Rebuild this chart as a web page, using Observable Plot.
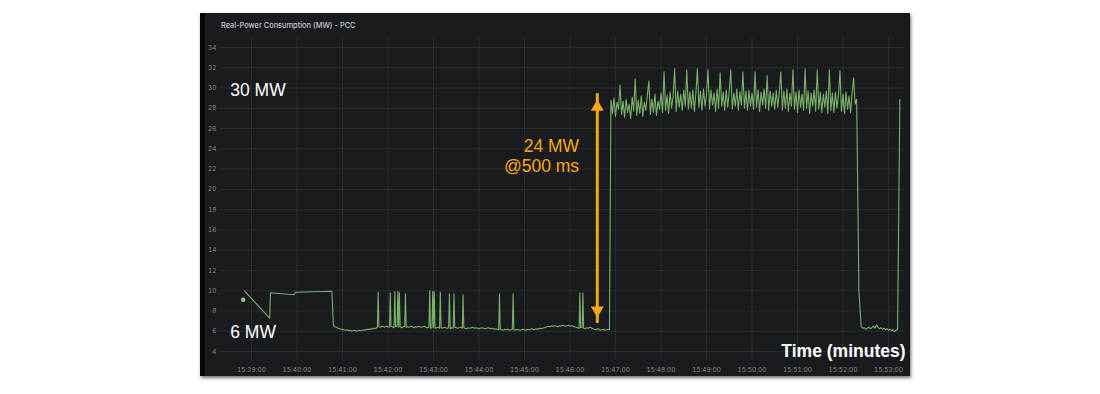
<!DOCTYPE html>
<html><head><meta charset="utf-8">
<script src="https://cdn.jsdelivr.net/npm/d3@7"></script>
<script src="https://cdn.jsdelivr.net/npm/@observablehq/plot@0.6"></script>
<style>
html,body{margin:0;padding:0;background:#fff;width:1100px;height:394px;overflow:hidden}
#panel{position:absolute;left:200px;top:13px;width:710px;height:363px;background:#1a1b1f;
  box-shadow: inset 5px 0 0 #060606, 1px 2px 3px rgba(0,0,0,0.55);}
#chart{position:absolute;left:0;top:0}
#title{position:absolute;left:21px;top:8px;font:500 7.4px Inter, sans-serif;color:#c9c9c9;white-space:nowrap}
</style></head><body>
<div id="panel"><div id="chart"></div><div id="title">Real-Power Consumption (MW) - PCC</div></div>
<script>
const DAY = "2024-01-01T";
const T = s => new Date(DAY + s + "Z");

const xTickLabels = ["15:39:00","15:40:00","15:41:00","15:42:00","15:43:00","15:44:00","15:45:00","15:46:00","15:47:00","15:48:00","15:49:00","15:50:00","15:51:00","15:52:00","15:53:00"];
const yTicks = [4,6,8,10,12,14,16,18,20,22,24,26,28,30,32,34];

// isolated first sample
const startDot = {time: "15:38:49", value: 9.1};
// sparse start segment
const startTimes = ["15:38:51","15:39:24","15:39:25","15:39:56","15:39:58","15:40:46"];
const startValues = [9.95, 7.3, 9.8, 9.6, 9.85, 9.95];

// low baseline, 2 s samples from 15:40:48
const lowStart = "15:40:48";
const lowStep = 2;
const lowValues = [
 6.55,6.45,6.4,6.3,6.25,6.2,6.2,6.15,6.1,6.15,
 6.05,6.1,6.0,6.05,6.1,6.0,6.05,6.1,6.05,6.1,
 6.15,6.1,6.2,6.15,6.25,6.2,6.3,6.25,6.3,6.4,
 6.45,6.4,6.5,6.45,6.4,6.5,6.45,6.4,6.5,6.45,
 6.35,6.45,6.5,6.4,6.45,6.35,6.45,6.5,6.4,6.45,
 6.4,6.5,6.45,6.35,6.45,6.4,6.5,6.45,6.4,6.45,
 6.5,6.4,6.35,6.4,6.3,6.35,6.4,6.3,6.35,6.4,
 6.3,6.35,6.3,6.4,6.35,6.3,6.35,6.25,6.35,6.3,
 6.4,6.35,6.3,6.35,6.4,6.3,6.35,6.3,6.25,6.35,
 6.3,6.35,6.4,6.3,6.35,6.3,6.25,6.3,6.35,6.3,
 6.25,6.3,6.35,6.3,6.25,6.3,6.2,6.25,6.2,6.15,
 6.2,6.15,6.1,6.2,6.15,6.2,6.1,6.15,6.2,6.15,
 6.1,6.2,6.15,6.1,6.15,6.2,6.15,6.1,6.2,6.15,
 6.2,6.25,6.15,6.2,6.25,6.2,6.3,6.25,6.3,6.35,
 6.4,6.45,6.5,6.45,6.55,6.5,6.55,6.5,6.45,6.55,
 6.5,6.6,6.55,6.5,6.55,6.6,6.5,6.55,6.5,6.45,
 6.4,6.35,6.3,6.35,6.4,6.3,6.25,6.35,6.3,6.4,
 6.35,6.25,6.2,6.15,6.25,6.2,6.1,6.15,6.2,6.1,
 6.15,6.2,6.15
];
const lowSpikeTimes = ["15:41:47","15:42:03","15:42:09","15:42:13","15:42:15","15:42:23","15:42:55","15:42:59","15:43:01","15:43:09","15:43:21","15:43:27","15:43:39","15:44:27","15:44:45","15:46:13","15:46:17"];
const lowSpikeValues = [9.85,9.8,9.9,9.95,9.8,9.7,10.0,9.95,9.9,9.85,9.7,9.7,9.6,9.7,9.7,9.8,9.8];

// high plateau, 2 s samples from 15:46:54
const highStart = "15:46:54";
const highStep = 2;
const highValues = [
 28.8,27.5,29.0,27.2,28.6,27.9,30.3,27.4,28.7,27.1,
 28.9,27.6,28.4,27.0,29.1,27.7,30.9,27.3,28.8,27.5,
 29.2,27.2,28.6,27.8,29.3,30.7,27.4,28.9,27.6,29.4,
 27.3,28.7,27.9,29.5,27.6,31.6,27.8,29.3,27.5,29.6,
 28.0,29.2,31.9,27.7,29.7,28.1,29.4,27.8,29.8,28.2,
 31.8,27.9,29.6,28.0,29.8,27.7,29.5,31.9,28.1,29.7,
 27.8,29.9,28.2,29.4,31.8,27.9,29.8,28.3,29.5,27.7,
 29.9,28.0,31.5,28.2,29.6,27.8,29.8,28.1,29.7,31.8,
 27.9,29.5,28.2,29.9,27.8,29.6,28.3,31.6,28.0,29.7,
 27.8,29.8,28.2,29.5,27.9,31.6,28.1,29.8,27.7,29.6,
 28.3,29.9,28.0,31.2,27.8,29.7,28.2,29.5,27.9,29.8,
 28.1,29.6,31.6,27.8,29.7,28.0,29.9,27.7,29.5,28.2,
 31.8,27.9,29.6,27.6,29.8,28.1,29.4,27.8,31.9,28.0,
 29.7,27.5,29.5,28.2,29.8,27.7,31.8,27.9,29.6,27.6,
 29.4,28.1,29.7,27.5,31.8,27.8,29.5,27.6,29.6,28.0,
 29.3,31.7,27.7,29.4,27.5,29.6,27.9,29.2,27.6,29.5,
 31.0,28.4,28.9
];

// drop back to base load
const dropTimes = ["15:52:21"];
const dropValues = [9.9];
const tailStart = "15:52:24";
const tailStep = 2;
const tailValues = [6.45,6.3,6.35,6.2,6.3,6.4,6.25,6.35,6.5,6.3,6.6,6.4,6.25,6.35,6.2,6.3,6.15,6.25,6.1,6.2,6.05,6.15,5.95,6.1,6.2];
const endTimes = ["15:53:15"];
const endValues = [28.9];

// annotations
const labelTimes = ["15:38:32","15:38:32"];
const labelValues = [29.8, 5.85];
const labelTexts = ["30 MW","6 MW"];
const stepNote = {time: "15:46:12", value: 23.3, text: "24 MW\n@500 ms"};
const stepArrow = {time: "15:46:36", from: 7.35, to: 28.85};
const axisTitle = {value: 4.05, text: "Time (minutes)"};

// ---- build tables
const series = [];
startTimes.forEach((t,i)=>series.push({time:T(t), value:startValues[i]}));
lowValues.forEach((v,i)=>series.push({time:new Date(+T(lowStart)+i*lowStep*1000), value:v}));
lowSpikeTimes.forEach((t,i)=>series.push({time:T(t), value:lowSpikeValues[i]}));
highValues.forEach((v,i)=>series.push({time:new Date(+T(highStart)+i*highStep*1000), value:v}));
dropTimes.forEach((t,i)=>series.push({time:T(t), value:dropValues[i]}));
tailValues.forEach((v,i)=>series.push({time:new Date(+T(tailStart)+i*tailStep*1000), value:v}));
endTimes.forEach((t,i)=>series.push({time:T(t), value:endValues[i]}));
series.sort((a,b)=>a.time-b.time);

const xTicks = xTickLabels.map(T);
const labels = labelTexts.map((s,i)=>({time:T(labelTimes[i]), value:labelValues[i], text:s}));
const arrowRow = [{time:T(stepArrow.time), from:stepArrow.from, to:stepArrow.to}];
const noteRow = [{time:T(stepNote.time), value:stepNote.value, text:stepNote.text}];

const ORANGE = "#f5a80f";
const GREEN = "#78b067";
const triDown = {draw(ctx, size){const y=Math.sqrt(size/(3*Math.sqrt(3)));ctx.moveTo(0,2*y);ctx.lineTo(-Math.sqrt(3)*y,-y);ctx.lineTo(Math.sqrt(3)*y,-y);ctx.closePath();}};

const chart = Plot.plot({
  width: 710, height: 363,
  marginLeft: 20, marginRight: 5, marginTop: 24, marginBottom: 17,
  style: {background: "transparent", color: "#8c8c8c", fontFamily: "Inter, sans-serif", fontSize: "6.5px"},
  x: {type: "utc", domain: [xTicks[0], xTicks[xTicks.length-1]], range: [51, 688], label: null},
  y: {domain: [4, 34], range: [338, 34], label: null},
  marks: [
    Plot.gridY(yTicks, {stroke: "#ffffff", strokeOpacity: 0.07}),
    Plot.gridX(xTicks, {stroke: "#ffffff", strokeOpacity: 0.07}),
    Plot.axisY(yTicks, {tickSize: 0, tickPadding: 4, label: null}),
    Plot.axisX(xTicks, {tickSize: 0, tickPadding: 8, tickFormat: d3.utcFormat("%H:%M:%S"), label: null}),
    Plot.line(series, {x: "time", y: "value", stroke: GREEN, strokeWidth: 1.1}),
    Plot.dot([{time: T(startDot.time), value: startDot.value}], {x: "time", y: "value", r: 2.2, fill: "#8fd07c"}),
    Plot.text(labels, {x: "time", y: "value", text: "text", textAnchor: "start", fill: "#ffffff", fontSize: 17.5, fontFamily: "'Liberation Sans', Arial, sans-serif"}),
    Plot.text(noteRow, {x: "time", y: "value", text: "text", textAnchor: "end", lineAnchor: "middle", lineHeight: 1.14, fill: ORANGE, fontSize: 17.5, fontFamily: "'Liberation Sans', Arial, sans-serif"}),
    Plot.text([axisTitle], {y: "value", text: "text", frameAnchor: "right", textAnchor: "end", fill: "#ffffff", fontWeight: "bold", fontSize: 17.5, fontFamily: "'Liberation Sans', Arial, sans-serif"}),
    Plot.ruleX(arrowRow, {x: "time", y1: "from", y2: "to", stroke: ORANGE, strokeWidth: 3, insetTop: 6, insetBottom: 6}),
    Plot.dot(arrowRow, {x: "time", y: "to", symbol: "triangle", r: 4.8, fill: ORANGE, stroke: "none", dy: 7.4}),
    Plot.dot(arrowRow, {x: "time", y: "from", symbol: triDown, r: 4.8, fill: ORANGE, stroke: "none", dy: -7.4})
  ]
});
document.getElementById("chart").appendChild(chart);
</script>
</body></html>
